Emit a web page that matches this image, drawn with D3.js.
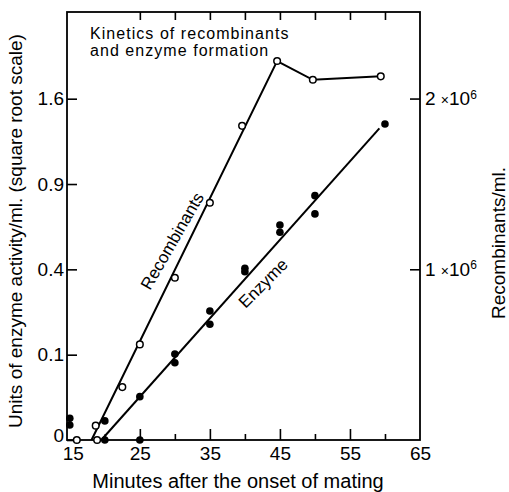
<!DOCTYPE html>
<html>
<head>
<meta charset="utf-8">
<script src="https://cdn.jsdelivr.net/npm/d3@7"></script>
<style>
  html, body { margin: 0; padding: 0; background: #fff; }
  svg { display: block; font-family: "Liberation Sans", Arial, sans-serif; }
</style>
</head>
<body>
<svg id="chart" width="509" height="492"></svg>
<script>
// ---- Data ----
// Recombinants (open circles), recombinants/ml, right axis
const recMinutes = [16, 18.9, 18.7, 22.5, 25, 30, 35, 39.6, 44.6, 49.7, 59.4];
const recValues  = [0, 0, 0.084e6, 0.31e6, 0.56e6, 0.95e6, 1.39e6, 1.84e6, 2.22e6, 2.11e6, 2.13e6];
// Recombinants drawn curve
const recLineMinutes = [18.1, 44.6, 49.7, 59.4];
const recLineValues  = [0, 2.22e6, 2.11e6, 2.13e6];

// Enzyme (filled circles), units of enzyme activity/ml, left axis (square root scale)
const enzMinutes = [15, 15, 20, 20, 25, 25, 30, 30, 35, 35, 40, 40, 45, 45, 50, 50, 60];
const enzValues  = [0.0065, 0.0031, 0.0050, 0, 0, 0.0258, 0.1016, 0.0821, 0.2286, 0.1839,
                    0.405, 0.389, 0.635, 0.593, 0.820, 0.702, 1.372];
// Enzyme fitted line
const enzLineMinutes = [19.5, 59.2];
const enzLineValues  = [0, 1.334];

// Tick values / labels
const xLabelTicks = [15, 25, 35, 45, 55, 65];
const xMajorTicks = [25, 35, 45, 55];
const xMinorTicks = [20, 30, 40, 50, 60];
const xTopTicks   = [25, 30, 35, 40, 45, 50, 55, 60];
const yLeftTicks  = [0, 0.1, 0.4, 0.9, 1.6];
const yRightTicks = [1e6, 2e6];
const yRightLabels = ["1", "2"];

// Text
const titleLines = ["Kinetics of recombinants", "and enzyme formation"];
const xTitle = "Minutes after the onset of mating";
const yLeftTitle = "Units of enzyme activity/ml. (square root scale)";
const yRightTitle = "Recombinants/ml.";
// Curve labels: [text, minute, value, axis, angle]
const curveLabels = [
  ["Recombinants", 29.6, 1.166e6, "right", -60],
  ["Enzyme", 42.6, 0.3385, "left", -45]
];

// ---- Layout ----
const margin = { left: 67, top: 12, right: 89, bottom: 52 };
const W = 509, H = 492;
const iw = W - margin.left - margin.right;
const ih = H - margin.top - margin.bottom;

const svg = d3.select("#chart");
const g = svg.append("g").attr("transform", `translate(${margin.left},${margin.top})`);

const x = d3.scaleLinear().domain([14.6, 65]).range([0, iw]);
const yL = d3.scaleSqrt().domain([0, 2.516]).range([ih, 0]);
const yR = d3.scaleLinear().domain([0, 2.507e6]).range([ih, 0]);

const fs = 19;

// Frame
g.append("rect").attr("x", 0).attr("y", 0).attr("width", iw).attr("height", ih)
  .attr("fill", "none").attr("stroke", "#000").attr("stroke-width", 1.8);

function styleAxis(sel) {
  sel.select(".domain").remove();
  sel.selectAll(".tick line").attr("stroke", "#000").attr("stroke-width", 1.6);
  sel.selectAll(".tick text").attr("fill", "#000").attr("font-size", fs)
     .attr("font-family", "Liberation Sans, Arial, sans-serif");
}

// Bottom: labels
const bx = g.append("g").attr("transform", `translate(0,${ih})`)
  .call(d3.axisBottom(x).tickValues(xLabelTicks).tickSize(0).tickPadding(7).tickFormat(d3.format("d")))
  .call(styleAxis);
bx.selectAll(".tick text").filter(d => d === 15).attr("dx", 3);
g.append("g").attr("transform", `translate(0,${ih})`)
  .call(d3.axisBottom(x).tickValues(xMajorTicks).tickSize(-11).tickFormat(""))
  .call(styleAxis);
g.append("g").attr("transform", `translate(0,${ih})`)
  .call(d3.axisBottom(x).tickValues(xMinorTicks).tickSize(-6).tickFormat(""))
  .call(styleAxis);
// Top ticks
g.append("g")
  .call(d3.axisTop(x).tickValues(xTopTicks).tickSize(-8).tickFormat(""))
  .call(styleAxis);

// Left axis (square root)
const lx = g.append("g")
  .call(d3.axisLeft(yL).tickValues(yLeftTicks).tickSize(-10).tickPadding(3)
        .tickFormat(d => d === 0 ? "0" : d3.format(".1f")(d)))
  .call(styleAxis);
lx.selectAll(".tick text").filter(d => d === 0).attr("dy", "0.1em");

// Right axis
const rAx = g.append("g").attr("transform", `translate(${iw},0)`)
  .call(d3.axisRight(yR).tickValues(yRightTicks).tickSize(-10).tickPadding(5).tickFormat(""))
  .call(styleAxis);
rAx.selectAll(".tick text").each(function(d, i) {
  const t = d3.select(this);
  t.text(null);
  t.append("tspan").text(yRightLabels[i] + " ");
  t.append("tspan").attr("font-size", 14).text("×");
  t.append("tspan").text("10");
  t.append("tspan").attr("font-size", 12).attr("dy", "-0.55em").text("6");
});

// Recombinant line
const lineR = d3.line().x(d => x(d[0])).y(d => yR(d[1]));
g.append("path")
  .datum(recLineMinutes.map((m, i) => [m, recLineValues[i]]))
  .attr("d", lineR).attr("fill", "none").attr("stroke", "#000").attr("stroke-width", 2);

// Enzyme line
const lineE = d3.line().x(d => x(d[0])).y(d => yL(d[1]));
g.append("path")
  .datum(enzLineMinutes.map((m, i) => [m, enzLineValues[i]]))
  .attr("d", lineE).attr("fill", "none").attr("stroke", "#000").attr("stroke-width", 2);

// Enzyme points (filled)
g.append("g").selectAll("circle")
  .data(enzMinutes.map((m, i) => [m, enzValues[i]]))
  .join("circle")
  .attr("cx", d => x(d[0])).attr("cy", d => yL(d[1])).attr("r", 3.8)
  .attr("fill", "#000");

// Recombinant points (open)
g.append("g").selectAll("circle")
  .data(recMinutes.map((m, i) => [m, recValues[i]]))
  .join("circle")
  .attr("cx", d => x(d[0])).attr("cy", d => yR(d[1])).attr("r", 3.3)
  .attr("fill", "#fff").attr("stroke", "#000").attr("stroke-width", 1.5);

// Curve labels
curveLabels.forEach(([txt, m, v, ax, ang]) => {
  const px = x(m), py = (ax === "left" ? yL : yR)(v);
  g.append("text")
    .attr("transform", `translate(${px},${py}) rotate(${ang})`)
    .attr("text-anchor", "middle").attr("dy", "0.35em")
    .attr("font-size", 17).attr("fill", "#000").text(txt);
});

// Title
titleLines.forEach((t, i) => {
  svg.append("text").attr("x", 90).attr("y", 39 + i * 17)
    .attr("font-size", 16).attr("letter-spacing", 1.05).attr("fill", "#000").text(t);
});

// Axis titles
svg.append("text").attr("x", 238).attr("y", 488)
  .attr("text-anchor", "middle").attr("font-size", 20).attr("fill", "#000").text(xTitle);
svg.append("text").attr("transform", `translate(15,231) rotate(-90)`)
  .attr("text-anchor", "middle").attr("dy", "0.35em").attr("font-size", 19).attr("fill", "#000").text(yLeftTitle);
svg.append("text").attr("transform", `translate(498,243) rotate(-90)`)
  .attr("text-anchor", "middle").attr("dy", "0.35em").attr("font-size", 19).attr("fill", "#000").text(yRightTitle);
</script>
</body>
</html>
